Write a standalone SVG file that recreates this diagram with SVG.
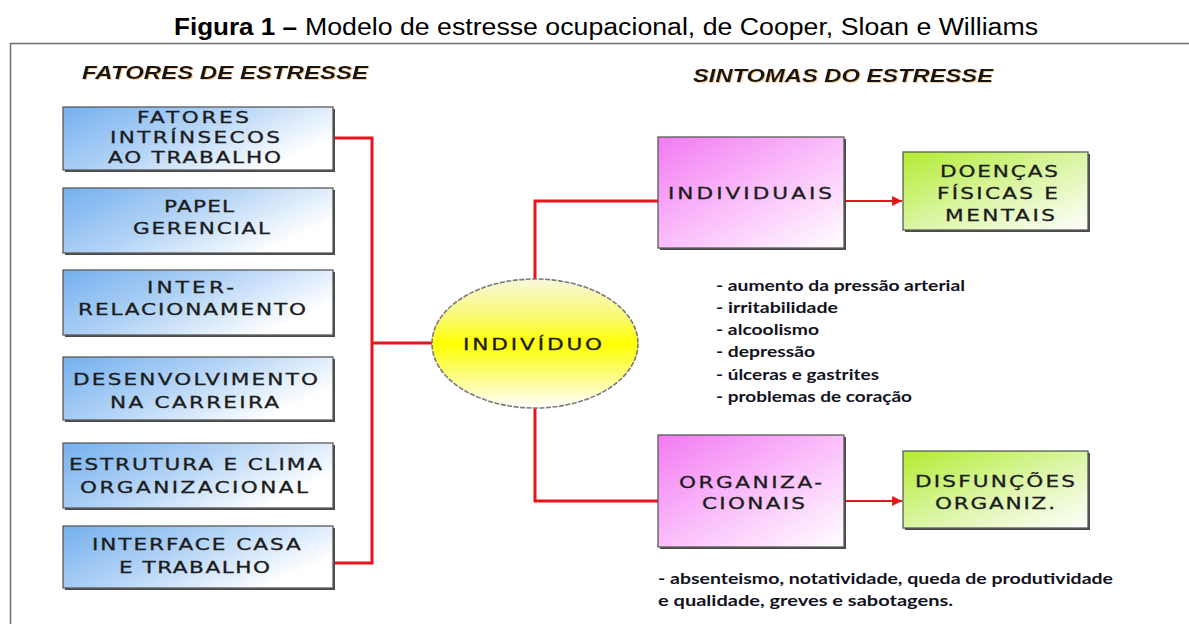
<svg xmlns="http://www.w3.org/2000/svg" width="1189" height="624" viewBox="0 0 1189 624">
<style>
.title{font-family:"Liberation Sans",Arial,sans-serif;font-size:23px;fill:#000}
.head{font-family:"Liberation Sans",Arial,sans-serif;font-size:19px;font-weight:bold;font-style:italic;fill:#161616}
.bx{font-family:"DejaVu Sans",Verdana,sans-serif;font-size:16px;fill:#1c1c1c;stroke:#1c1c1c;stroke-width:0.3}
.lst{font-family:Lato,"Open Sans",sans-serif;font-size:16px;font-weight:bold;fill:#12121e}
.frame{fill:none;stroke:#6e6e6e;stroke-width:1.5}
.wire{fill:none;stroke:#e8141c;stroke-width:3}
.arr{fill:none;stroke:#e8141c;stroke-width:2.2}
.sh{fill:#4a4a4a}
.bbox{fill:url(#gBlue);stroke:#5a5a5a;stroke-width:1.3}
.pbox{fill:url(#gPink);stroke:#5a5a5a;stroke-width:1.3}
.gbox{fill:url(#gGreen);stroke:#5a5a5a;stroke-width:1.3}
</style>
<defs>
<linearGradient id="gBlue" x1="0" y1="0" x2="1" y2="0.5">
<stop offset="0" stop-color="#74b0ee"/>
<stop offset="0.5" stop-color="#b2d3f6"/>
<stop offset="1" stop-color="#ffffff"/>
</linearGradient>
<linearGradient id="gPink" x1="0" y1="0" x2="1" y2="1">
<stop offset="0" stop-color="#f27af2"/>
<stop offset="0.5" stop-color="#fabefa"/>
<stop offset="1" stop-color="#ffffff"/>
</linearGradient>
<linearGradient id="gGreen" x1="0" y1="0" x2="1" y2="1">
<stop offset="0" stop-color="#b2ec30"/>
<stop offset="0.5" stop-color="#daf5a2"/>
<stop offset="1" stop-color="#ffffff"/>
</linearGradient>
<linearGradient id="gYellow" x1="0" y1="0" x2="0" y2="1">
<stop offset="0" stop-color="#f8f8dc"/>
<stop offset="0.3" stop-color="#fafa70"/>
<stop offset="0.5" stop-color="#ffff00"/>
<stop offset="0.75" stop-color="#fcfc80"/>
<stop offset="1" stop-color="#ffffff"/>
</linearGradient>
<marker id="ah" viewBox="0 0 10 10" refX="10" refY="5" markerWidth="5" markerHeight="4.5" orient="auto" markerUnits="strokeWidth">
<path d="M0,0 L10,5 L0,10 z" fill="#e8141c"/>
</marker>
<filter id="glow" x="-5%" y="-20%" width="110%" height="140%">
<feDropShadow dx="0.8" dy="0.8" stdDeviation="0.7" flood-color="#e89a30" flood-opacity="0.6"/>
</filter>
</defs>

<rect width="1189" height="624" fill="#ffffff"/>

<text class="title" y="35"><tspan x="174" font-weight="bold" textLength="123" lengthAdjust="spacingAndGlyphs">Figura 1 –</tspan></text>
<text class="title" x="305" y="35" textLength="733" lengthAdjust="spacingAndGlyphs">Modelo de estresse ocupacional, de Cooper, Sloan e Williams</text>

<path class="frame" d="M10.5,624 L10.5,43.5 L1189,43.5"/>

<text class="head" x="82" y="79" textLength="286" lengthAdjust="spacingAndGlyphs" filter="url(#glow)">FATORES DE ESTRESSE</text>
<text class="head" x="693" y="82" textLength="300" lengthAdjust="spacingAndGlyphs" filter="url(#glow)">SINTOMAS DO ESTRESSE</text>

<g id="connectors">
<path class="wire" d="M333,138 L372,138 L372,563 L333,563"/>
<path class="wire" d="M372,343 L432,343"/>
<path class="wire" d="M535,279 L535,201 L658,201"/>
<path class="wire" d="M535,408 L535,501 L658,501"/>
<path class="arr" d="M844,201 L902,201" marker-end="url(#ah)"/>
<path class="arr" d="M844,501 L902,501" marker-end="url(#ah)"/>
</g>

<g id="box-fatores-intrinsecos">
<rect class="sh" x="65" y="109" width="270" height="63"/>
<rect class="bbox" x="63" y="107" width="270" height="63"/>
<g transform="scale(1.35 1)">
<text class="bx" x="101.5" y="123" textLength="83" lengthAdjust="spacing">FATORES</text>
<text class="bx" x="81.5" y="143" textLength="125.9" lengthAdjust="spacing">INTRÍNSECOS</text>
<text class="bx" x="80" y="163" textLength="128.1" lengthAdjust="spacing">AO TRABALHO</text>
</g>
</g>

<g id="box-papel-gerencial">
<rect class="sh" x="65" y="190" width="270" height="65"/>
<rect class="bbox" x="63" y="188" width="270" height="65"/>
<g transform="scale(1.35 1)">
<text class="bx" x="121.5" y="212" textLength="51.9" lengthAdjust="spacing">PAPEL</text>
<text class="bx" x="98.5" y="234" textLength="101.5" lengthAdjust="spacing">GERENCIAL</text>
</g>
</g>

<g id="box-inter-relacionamento">
<rect class="sh" x="65" y="272" width="270" height="65"/>
<rect class="bbox" x="63" y="270" width="270" height="65"/>
<g transform="scale(1.35 1)">
<text class="bx" x="108.9" y="293" textLength="64.4" lengthAdjust="spacing">INTER-</text>
<text class="bx" x="57.8" y="315" textLength="168.9" lengthAdjust="spacing">RELACIONAMENTO</text>
</g>
</g>

<g id="box-desenvolvimento">
<rect class="sh" x="65" y="359" width="270" height="63"/>
<rect class="bbox" x="63" y="357" width="270" height="63"/>
<g transform="scale(1.35 1)">
<text class="bx" x="54.1" y="385" textLength="181.5" lengthAdjust="spacing">DESENVOLVIMENTO</text>
<text class="bx" x="81.5" y="408" textLength="125.2" lengthAdjust="spacing">NA CARREIRA</text>
</g>
</g>

<g id="box-estrutura-clima">
<rect class="sh" x="65" y="445" width="270" height="65"/>
<rect class="bbox" x="63" y="443" width="270" height="65"/>
<g transform="scale(1.35 1)">
<text class="bx" x="51.1" y="470" textLength="187.4" lengthAdjust="spacing">ESTRUTURA E CLIMA</text>
<text class="bx" x="59.3" y="493" textLength="168.9" lengthAdjust="spacing">ORGANIZACIONAL</text>
</g>
</g>

<g id="box-interface-casa">
<rect class="sh" x="65" y="528" width="270" height="62"/>
<rect class="bbox" x="63" y="526" width="270" height="62"/>
<g transform="scale(1.35 1)">
<text class="bx" x="68.1" y="550" textLength="154.8" lengthAdjust="spacing">INTERFACE CASA</text>
<text class="bx" x="88.1" y="573" textLength="111.9" lengthAdjust="spacing">E TRABALHO</text>
</g>
</g>

<g id="node-individuo">
<ellipse cx="535" cy="343.5" rx="103" ry="64.5" fill="url(#gYellow)" stroke="#7a7a7a" stroke-width="1.6" stroke-dasharray="5 1.5"/>
<g transform="scale(1.35 1)">
<text class="bx" x="343" y="350" textLength="103" lengthAdjust="spacing">INDIVÍDUO</text>
</g>
</g>

<g id="box-individuais">
<rect class="sh" x="660" y="139" width="186" height="111"/>
<rect class="pbox" x="658" y="137" width="186" height="111"/>
<g transform="scale(1.35 1)">
<text class="bx" x="494.8" y="199" textLength="121.5" lengthAdjust="spacing">INDIVIDUAIS</text>
</g>
</g>

<g id="box-doencas">
<rect class="sh" x="905" y="154" width="185" height="78"/>
<rect class="gbox" x="903" y="152" width="185" height="78"/>
<g transform="scale(1.35 1)">
<text class="bx" x="696.3" y="177" textLength="87.4" lengthAdjust="spacing">DOENÇAS</text>
<text class="bx" x="694.1" y="199" textLength="89.6" lengthAdjust="spacing">FÍSICAS E</text>
<text class="bx" x="700" y="221" textLength="81.5" lengthAdjust="spacing">MENTAIS</text>
</g>
</g>

<g id="list-individuais">
<text class="lst" x="716" y="291" textLength="249" lengthAdjust="spacingAndGlyphs">- aumento da pressão arterial</text>
<text class="lst" x="716" y="313" textLength="122" lengthAdjust="spacingAndGlyphs">- irritabilidade</text>
<text class="lst" x="716" y="335" textLength="103" lengthAdjust="spacingAndGlyphs">- alcoolismo</text>
<text class="lst" x="716" y="357" textLength="99" lengthAdjust="spacingAndGlyphs">- depressão</text>
<text class="lst" x="716" y="380" textLength="163" lengthAdjust="spacingAndGlyphs">- úlceras e gastrites</text>
<text class="lst" x="716" y="402" textLength="196" lengthAdjust="spacingAndGlyphs">- problemas de coração</text>
</g>

<g id="box-organizacionais">
<rect class="sh" x="660" y="437" width="186" height="112"/>
<rect class="pbox" x="658" y="435" width="186" height="112"/>
<g transform="scale(1.35 1)">
<text class="bx" x="503" y="488" textLength="105.9" lengthAdjust="spacing">ORGANIZA-</text>
<text class="bx" x="520" y="509" textLength="76.3" lengthAdjust="spacing">CIONAIS</text>
</g>
</g>

<g id="box-disfuncoes">
<rect class="sh" x="905" y="453" width="185" height="77"/>
<rect class="gbox" x="903" y="451" width="185" height="77"/>
<g transform="scale(1.35 1)">
<text class="bx" x="677.8" y="487" textLength="118.5" lengthAdjust="spacing">DISFUNÇÕES</text>
<text class="bx" x="692.6" y="509" textLength="88.9" lengthAdjust="spacing">ORGANIZ.</text>
</g>
</g>

<g id="list-organizacionais">
<text class="lst" x="658" y="584" textLength="455" lengthAdjust="spacingAndGlyphs">- absenteismo, notatividade, queda de produtividade</text>
<text class="lst" x="658" y="606" textLength="295" lengthAdjust="spacingAndGlyphs">e qualidade, greves e sabotagens.</text>
</g>
</svg>
